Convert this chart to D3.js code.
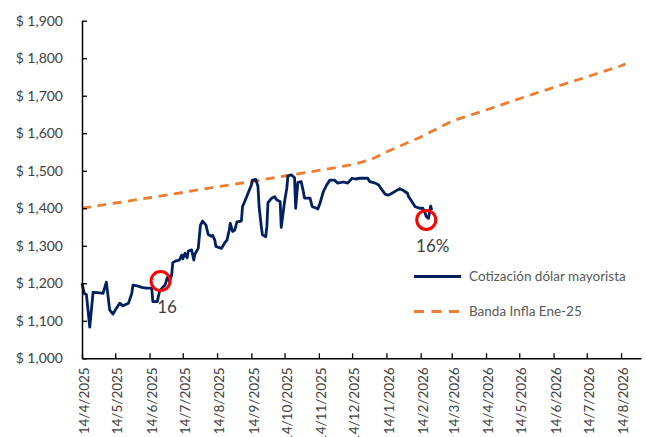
<!DOCTYPE html>
<html><head><meta charset="utf-8">
<script src="https://cdn.jsdelivr.net/npm/d3@7"></script>
<style>
html,body{margin:0;padding:0;background:#fff;}
svg{display:block;font-family:Lato,"Open Sans",sans-serif;}
</style></head>
<body><svg id="c" width="647" height="437"></svg>
<script>
// ---- data ----
const dolarDates = ["2025-04-14","2025-04-16","2025-04-18","2025-04-21","2025-04-24","2025-04-28","2025-05-03","2025-05-06","2025-05-09","2025-05-12","2025-05-15","2025-05-18","2025-05-21","2025-05-23","2025-05-26","2025-05-29","2025-05-30","2025-06-03","2025-06-07","2025-06-11","2025-06-16","2025-06-17","2025-06-21","2025-06-23","2025-06-26","2025-06-28","2025-06-30","2025-07-02","2025-07-04","2025-07-05","2025-07-08","2025-07-11","2025-07-13","2025-07-14","2025-07-16","2025-07-18","2025-07-19","2025-07-22","2025-07-24","2025-07-25","2025-07-28","2025-07-30","2025-08-01","2025-08-04","2025-08-06","2025-08-09","2025-08-10","2025-08-12","2025-08-13","2025-08-18","2025-08-21","2025-08-23","2025-08-25","2025-08-26","2025-08-28","2025-08-30","2025-09-01","2025-09-05","2025-09-06","2025-09-08","2025-09-11","2025-09-14","2025-09-15","2025-09-18","2025-09-20","2025-09-21","2025-09-23","2025-09-24","2025-09-27","2025-09-28","2025-09-29","2025-10-02","2025-10-05","2025-10-07","2025-10-10","2025-10-11","2025-10-14","2025-10-16","2025-10-17","2025-10-20","2025-10-23","2025-10-24","2025-10-26","2025-10-29","2025-10-31","2025-11-01","2025-11-06","2025-11-08","2025-11-12","2025-11-13","2025-11-15","2025-11-18","2025-11-21","2025-11-24","2025-11-28","2025-12-01","2025-12-06","2025-12-10","2025-12-14","2025-12-17","2025-12-21","2025-12-28","2025-12-30","2026-01-04","2026-01-07","2026-01-10","2026-01-13","2026-01-16","2026-01-19","2026-01-23","2026-01-26","2026-01-29","2026-02-02","2026-02-03","2026-02-06","2026-02-09","2026-02-13","2026-02-16","2026-02-18","2026-02-19","2026-02-21","2026-02-23","2026-02-24"];
const dolarValues = [1200,1173,1170,1083,1176,1175,1173,1203,1129,1118,1133,1147,1140,1143,1147,1173,1195,1193,1189,1187,1187,1151,1151,1178,1190,1195,1215,1205,1222,1255,1260,1262,1275,1265,1280,1268,1286,1289,1262,1278,1293,1355,1366,1355,1330,1325,1328,1315,1298,1293,1308,1315,1342,1360,1338,1342,1364,1366,1404,1418,1440,1462,1475,1477,1458,1404,1351,1329,1324,1351,1415,1426,1431,1422,1418,1349,1418,1453,1486,1489,1482,1400,1469,1471,1444,1427,1427,1404,1400,1398,1413,1444,1462,1475,1475,1467,1470,1467,1480,1478,1480,1480,1471,1467,1462,1449,1437,1435,1440,1447,1452,1448,1440,1431,1418,1404,1400,1400,1387,1378,1373,1406,1395];

const bandaDates = ["2025-04-14","2025-05-14","2025-06-14","2025-07-14","2025-08-14","2025-09-14","2025-10-14","2025-11-14","2025-12-14","2025-12-31","2026-01-14","2026-02-14","2026-03-14","2026-04-14","2026-05-14","2026-06-14","2026-07-14","2026-08-14","2026-08-18"];
const bandaValues = [1400,1414,1428,1442,1457,1471,1486,1501,1516,1530,1550,1590,1632,1662,1692,1722,1750,1780,1785];

const xTickLabels = ["14/4/2025","14/5/2025","14/6/2025","14/7/2025","14/8/2025","14/9/2025","14/10/2025","14/11/2025","14/12/2025","14/1/2026","14/2/2026","14/3/2026","14/4/2026","14/5/2026","14/6/2026","14/7/2026","14/8/2026"];
const yTicks = [1000,1100,1200,1300,1400,1500,1600,1700,1800,1900];
const xDomain = ["2025-04-14","2026-09-01"];

const seriesNames = ["Cotización dólar mayorista","Banda Infla Ene-25"];
const annotDates = ["2025-06-24","2026-02-19"];
const annotValues = [1206,1369];
const annotLabels = ["16","16%"];

// ---- chart ----
const pIso = d3.timeParse("%Y-%m-%d");
const pTick = d3.timeParse("%d/%m/%Y");
const svg = d3.select("#c");
const x = d3.scaleTime().domain(xDomain.map(pIso)).range([82, 641]);
const y = d3.scaleLinear().domain([1000, 1900]).range([358.3, 20.7]);

const blue = "#002060", orange = "#ED7D31";

const dolar = dolarDates.map((d,i)=>({d:pIso(d), v:dolarValues[i]}));
const banda = bandaDates.map((d,i)=>({d:pIso(d), v:bandaValues[i]}));
const line = d3.line().x(p=>x(p.d)).y(p=>y(p.v));

svg.append("path").datum(banda).attr("d", line)
  .attr("fill","none").attr("stroke",orange).attr("stroke-width",2.8)
  .attr("stroke-dasharray","9,6.5");
svg.append("path").datum(dolar).attr("d", line)
  .attr("fill","none").attr("stroke",blue).attr("stroke-width",2.8)
  .attr("stroke-linejoin","round");

// axes
const yAxis = d3.axisLeft(y).tickValues(yTicks).tickSizeInner(-5).tickSizeOuter(0).tickPadding(19)
  .tickFormat(v=>"$ " + d3.format(",")(v));
const gy = svg.append("g").attr("transform","translate(82,0)").call(yAxis);
gy.selectAll("text").attr("font-size",14).attr("fill","#404040").attr("font-family","Lato");

const xAxis = d3.axisBottom(x).tickValues(xTickLabels.map(pTick)).tickSizeInner(-5).tickSizeOuter(0)
  .tickFormat((d,i)=>xTickLabels[i]);
const gx = svg.append("g").attr("transform","translate(0,358.3)").call(xAxis);
gx.selectAll("text").attr("transform","rotate(-90)").attr("text-anchor","end")
  .attr("x",-9).attr("y",2).attr("dy","0.35em")
  .attr("font-size",13.5).attr("fill","#404040").attr("font-family","Lato");

[gx, gy].forEach(g=>{
  g.select(".domain").attr("stroke","#000").attr("stroke-width",1.5);
  g.selectAll(".tick line").attr("stroke","#000").attr("stroke-width",1.3);
});

// annotations
annotDates.forEach((d,i)=>{
  const cx = x(pIso(d)), cy = y(annotValues[i]);
  svg.append("circle").attr("cx",cx).attr("cy",cy).attr("r",9.5)
    .attr("fill","none").attr("stroke","#FF0000").attr("stroke-width",3);
  svg.append("text").attr("x",cx+6.5).attr("y",cy+32).attr("text-anchor","middle")
    .attr("font-size",17).attr("fill","#404040").text(annotLabels[i]);
});

// legend
const lg = svg.append("g");
[blue, orange].forEach((c,i)=>{
  const ly = 276.5 + i*35;
  lg.append("line").attr("x1",414).attr("x2",461).attr("y1",ly).attr("y2",ly)
    .attr("stroke",c).attr("stroke-width",2.8)
    .attr("stroke-dasharray", i===1 ? "10,7.5" : null);
  lg.append("text").attr("x",469).attr("y",ly).attr("dy","0.35em")
    .attr("font-size",13.5).attr("fill","#595959").text(seriesNames[i]);
});
</script></body></html>
